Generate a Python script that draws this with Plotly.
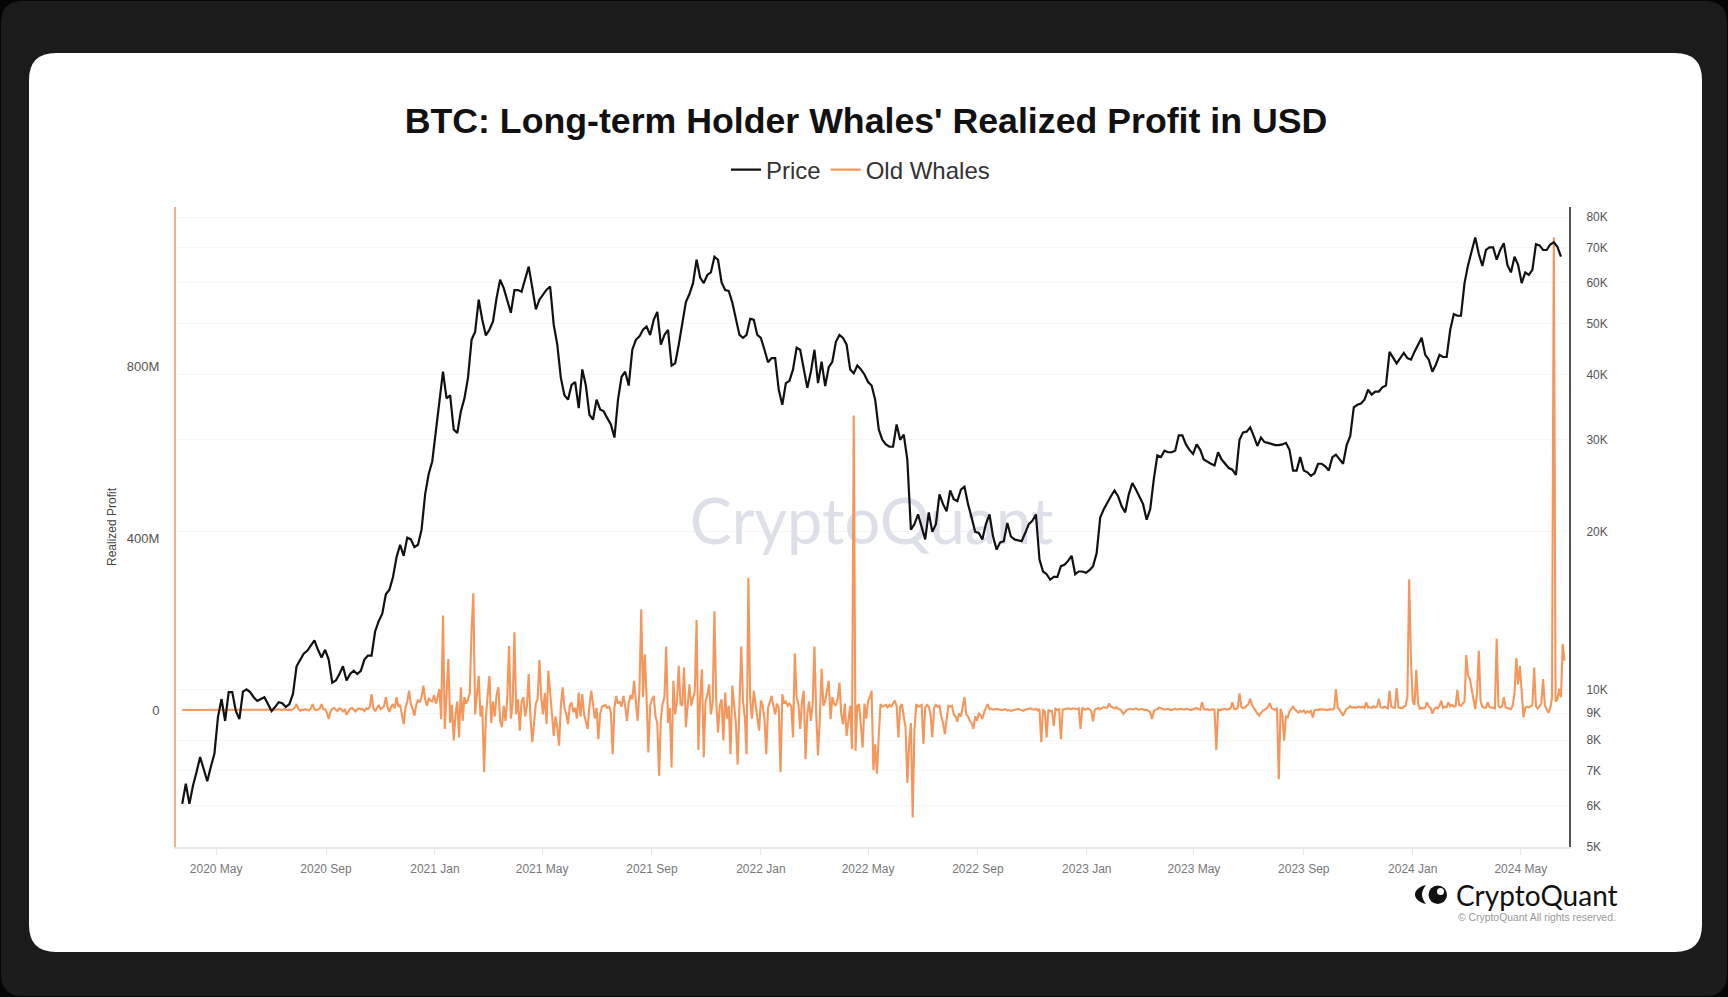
import pandas as pd
import plotly.graph_objects as go

# 4-day samples of BTC price (thousand USD)
price_k = [
    6.04, 6.6, 6.04, 6.54, 6.95, 7.42, 7.04, 6.67, 7.11, 7.53,
    8.85, 9.58, 8.7, 9.88, 9.88, 9.09, 8.77, 9.9, 10.0, 9.88,
    9.66, 9.5, 9.58, 9.66, 9.37, 9.09, 9.25, 9.45, 9.41, 9.25,
    9.37, 9.8, 11.07, 11.42, 11.7, 11.85, 12.1, 12.4, 11.9, 11.5,
    11.9, 11.4, 10.3, 10.4, 10.7, 11.07, 10.4, 10.7, 10.85, 10.7,
    10.85, 11.4, 11.6, 11.6, 12.9, 13.5, 13.95, 15.2, 15.5, 16.4,
    17.9, 18.9, 18.0, 19.5, 19.35, 18.7, 18.9, 20.2, 23.6, 25.8,
    27.3, 31.0, 35.0, 40.5, 36.0, 36.5, 31.4, 30.9, 34.0, 36.0,
    39.4, 46.6, 48.3, 55.6, 50.9, 47.5, 48.7, 50.5, 56.0, 60.7,
    58.5, 55.6, 52.5, 58.0, 58.0, 57.6, 60.7, 64.3, 58.6, 53.3,
    55.6, 56.8, 58.1, 58.9, 49.8, 45.6, 39.4, 36.5, 35.8, 38.2,
    38.7, 34.5, 40.9, 38.1, 33.5, 32.8, 35.8, 34.3, 34.0, 33.0,
    32.1, 30.3, 35.8, 39.6, 40.5, 38.1, 44.6, 46.6, 47.3, 48.7,
    49.4, 47.6, 50.9, 52.7, 45.6, 47.6, 48.7, 41.6, 42.0, 45.6,
    49.9, 55.0, 57.0, 59.8, 66.3, 61.3, 59.8, 62.0, 62.7, 67.2,
    66.3, 60.0, 58.0, 57.8, 54.9, 50.9, 47.6, 47.0, 47.6, 51.1,
    50.9, 47.6, 47.0, 44.6, 42.2, 43.0, 43.0, 37.4, 35.0, 38.5,
    38.9, 40.9, 45.0, 44.6, 40.9, 37.7, 40.5, 44.6, 38.5, 42.3,
    38.0, 41.3, 42.3, 46.2, 47.6, 47.0, 45.6, 40.9, 40.2, 41.6,
    40.9, 40.0, 38.7, 38.1, 35.8, 31.4, 30.0, 29.4, 29.1, 29.1,
    32.1, 30.0, 30.7, 27.5, 20.2, 20.7, 21.6, 20.4, 19.35, 21.8,
    20.0, 20.7, 23.6, 22.6, 21.9, 24.0, 23.1, 22.9, 24.1, 24.4,
    22.6, 21.3, 20.0, 19.9, 19.35, 20.7, 21.6, 19.6, 18.5, 19.1,
    19.2, 20.8, 19.6, 19.35, 19.3, 19.2, 19.9, 20.7, 21.0, 21.6,
    17.7, 16.8, 16.6, 16.2, 16.4, 16.4, 17.2, 17.3, 17.6, 18.0,
    16.6, 16.8, 16.8, 16.7, 16.9, 17.2, 18.2, 21.3, 22.1, 22.8,
    23.4, 24.0, 23.4, 22.4, 21.8, 23.6, 24.8, 24.1, 23.4, 22.6,
    21.1, 22.1, 25.2, 28.0, 27.8, 28.6, 28.4, 28.4, 28.6, 30.6,
    30.6, 29.4, 28.7, 28.2, 29.4, 28.7, 27.5, 27.2, 27.0, 26.8,
    28.4, 27.5, 27.0, 26.5, 26.3, 25.7, 30.0, 31.0, 31.1, 31.7,
    30.5, 29.2, 30.3, 29.7, 29.6, 29.4, 29.3, 29.3, 29.4, 29.6,
    28.7, 26.2, 26.2, 27.8, 26.2, 26.0, 25.6, 25.9, 27.0, 27.0,
    26.7, 26.2, 27.8, 28.1, 27.5, 27.0, 29.3, 30.5, 34.6, 35.0,
    35.2, 35.8, 37.4, 36.6, 37.1, 37.1, 37.8, 38.1, 44.2, 43.0,
    42.0, 43.0, 44.0, 43.0, 42.7, 44.2, 45.6, 47.0, 43.6, 42.7,
    40.5, 41.8, 43.6, 43.2, 43.2, 48.7, 52.2, 51.8, 51.8, 59.8,
    64.8, 69.2, 73.1, 68.0, 64.5, 69.2, 70.0, 70.0, 66.3, 69.2,
    71.3, 64.8, 62.7, 67.2, 64.8, 59.8, 62.7, 62.0, 63.4, 71.0,
    70.6, 69.2, 69.2, 70.9, 71.6, 70.2, 67.2,
]

# 2-day samples of old whales realized profit (million USD)
whales_m = [
    0, 0, 0, 0, 0, 0, 0, 0, 0, 0, 0, 0, 0, 0, 0, 0, 0, 0, 0, 0,
    0, 0, 0, 0, 0, 0, 0, 0, 0, 0, 0, 0, 0, 0, 0, 0, 0, 0, 0, 0,
    0, 0, 0, 0, 0, 0, 0, 0, 0, 0, 0, 1, 0, 1, 2, 1, 0, 2, 1, 0,
    1, 0, 2, 5, 14, 3, -2, 1, 0, 2, 1, -1, 3, 14, 2, 0, 1, 4, 14, 2,
    2, -6, -21, -4, 3, 5, 1, -2, 4, 2, -3, 1, -11, -2, 3, 5, 1, -3, 2, 4,
    1, 3, -2, 4, 2, 8, 37, 5, -3, 6, 12, 2, 5, 9, 30, 6, -4, 8, 14, 4,
    30, 8, 12, -8, -33, 6, 20, 45, 14, 3, -13, 12, 24, 18, 30, 57, 25, 10, 28, 22,
    20, 35, 15, 30, 49, -21, 220, -44, 30, 119, -30, 12, -71, -10, 20, -64, 53, -25, 30, 15,
    25, 40, 185, 272, -10, 40, 80, -15, 10, -145, -20, 35, 80, -30, 20, -15, 35, 53, -25, -40,
    10, -25, 30, 150, -20, 15, 181, -10, 25, -48, 20, 30, -15, 10, 84, -20, -75, -30, 15, 25,
    117, 30, -10, 40, -33, 92, 35, -20, -60, -15, -40, -83, 10, 53, 5, -10, -33, 10, 18, -5,
    5, -20, 41, -15, 37, -10, -25, -44, 10, 45, 15, -20, 5, -68, -10, 8, 10, 12, 5, 8,
    -5, -103, 5, 33, 15, 20, 8, 33, 10, -25, 15, 35, 25, 68, 20, -25, 45, 235, 30, 130,
    30, -99, 10, 25, 33, -15, -30, -153, -20, 15, 30, 148, -30, 5, -134, 68, -10, 20, 103, 15,
    10, 99, -40, 20, 60, 10, 30, 45, 210, -93, 30, 95, -110, 20, 35, 60, -10, 15, 230, 20,
    -52, 10, 25, -71, 41, -20, 10, -103, 57, 15, -30, -127, 30, 148, 20, -15, -103, 308, 25, -20,
    45, 15, -15, -48, 22, 10, -20, -103, 5, 20, 33, 10, -10, 15, 5, -145, 37, 15, 20, 10,
    15, 10, -64, 132, 30, 15, -44, 20, 45, -114, -10, 20, -25, 15, 148, -10, -106, -20, 96, 10,
    20, 45, 68, -21, 30, 15, 10, 25, 64, -10, -33, 15, -60, -25, 10, -91, 686, -95, 10, 14,
    -30, -87, 15, -20, 20, 30, 45, -140, -80, -148, -60, 14, 8, 10, 12, 6, 12, 8, 15, 22,
    10, -64, 8, 14, -15, -40, -169, -80, -30, -250, -45, 14, 8, 10, 12, -79, 6, 12, 8, -10,
    -64, 5, 12, 8, 10, -15, -30, -56, -20, 10, 8, 10, -10, -15, -27, -8, -15, 5, 30, -10,
    -15, -25, -30, -44, -15, -25, -8, -12, -21, -5, 5, 14, 2, 3, 1, 2, 3, 2, 1, 0,
    1, 2, -1, 0, -2, -1, 1, 2, 3, 1, 0, -2, 1, 2, 3, 4, 2, 1, 3, -1,
    3, -75, 2, -4, -64, 1, -3, -2, -37, 3, 0, 2, -68, 1, 2, 3, 4, 3, 2, 4,
    3, 2, 4, -44, 6, 2, 1, 4, 2, -3, -26, 1, 3, 5, 2, 4, 7, 5, 6, 15,
    8, 6, 4, 7, 3, 2, -2, -9, -3, 1, 2, 3, 1, 2, 4, 2, 1, 3, 2, 0,
    1, -2, -5, -21, -3, 1, 2, 6, 4, 3, 1, 2, 3, 1, 0, 2, 3, 1, 2, 3,
    2, 1, 3, 2, 1, 0, 2, 3, 5, 2, 1, 18, 3, 1, 2, 0, 1, 2, 1, -93,
    1, 0, 1, 2, 3, 1, 2, 4, 18, 3, 2, 5, 39, 8, 4, 6, 10, 14, 26, 12,
    5, -3, -8, -13, -6, -2, 1, 3, 8, 16, 4, 2, 0, 5, -161, 3, -10, -71, -15, -17,
    -3, 2, 8, 1, -3, -6, -2, -4, -1, -7, -3, -5, -2, -17, -1, 1, 0, 2, 1, 2,
    1, 0, 1, 2, 1, 3, 49, 6, 1, -6, -13, -4, 3, 5, 9, 6, 7, 5, 6, 8,
    6, 8, 5, 18, 6, 7, 5, 9, 6, 8, 26, 7, 5, 8, 6, 4, 45, 8, 6, 5,
    51, 6, 5, 4, 8, 10, 30, 305, 120, 20, 12, 93, 15, 3, 5, 4, 6, 18, 8, 5,
    -8, 2, 6, 4, 10, 22, 5, 8, 7, 18, 9, 12, 8, 10, 47, 12, 10, 14, 20, 128,
    80, 72, 50, 25, 2, 40, 138, 20, 8, 5, 6, 18, 7, 6, 5, 4, 166, 10, 6, 8,
    30, 6, 5, 3, 2, 10, 40, 121, 60, 103, 40, -17, 5, 8, 6, 10, 12, 99, 8, 4,
    10, 15, 72, 10, 2, -6, 4, 30, 1101, 20, 25, 49, 30, 154, 115,
]

x_tick_dates = ['2020-05-01', '2020-09-01', '2021-01-01', '2021-05-01', '2021-09-01', '2022-01-01', '2022-05-01',
                '2022-09-01', '2023-01-01', '2023-05-01', '2023-09-01', '2024-01-01', '2024-05-01']
x_tick_labels = ['2020 May', '2020 Sep', '2021 Jan', '2021 May', '2021 Sep', '2022 Jan', '2022 May',
                 '2022 Sep', '2023 Jan', '2023 May', '2023 Sep', '2024 Jan', '2024 May']
profit_ticks = [0, 400, 800]
profit_labels = ['0', '400M', '800M']
price_ticks = [5000, 6000, 7000, 8000, 9000, 10000, 20000, 30000, 40000, 50000, 60000, 70000, 80000]
price_labels = ['5K', '6K', '7K', '8K', '9K', '10K', '20K', '30K', '40K', '50K', '60K', '70K', '80K']

FONT = 'Liberation Sans'
W, H = 1728, 997
L, R, T, B = 176, 1569, 207, 847


# decorations are placed in picture pixels, converted to paper coordinates
def px(x):
    return (x - L) / (R - L)


def py(y):
    return (B - y) / (B - T)


def round_rect(x0, y0, x1, y1, r):
    return (f'M{px(x0 + r)},{py(y0)} L{px(x1 - r)},{py(y0)} Q{px(x1)},{py(y0)} {px(x1)},{py(y0 + r)} '
            f'L{px(x1)},{py(y1 - r)} Q{px(x1)},{py(y1)} {px(x1 - r)},{py(y1)} '
            f'L{px(x0 + r)},{py(y1)} Q{px(x0)},{py(y1)} {px(x0)},{py(y1 - r)} '
            f'L{px(x0)},{py(y0 + r)} Q{px(x0)},{py(y0)} {px(x0 + r)},{py(y0)} Z')


crescent = (f'M{px(1426)},{py(885)} C{px(1418)},{py(887)} {px(1415)},{py(891)} {px(1415)},{py(894.5)} '
            f'C{px(1415)},{py(898)} {px(1418)},{py(902)} {px(1426)},{py(904)} '
            f'C{px(1423)},{py(900)} {px(1422)},{py(897)} {px(1422)},{py(894.5)} '
            f'C{px(1422)},{py(892)} {px(1423)},{py(889)} {px(1426)},{py(885)} Z')

shapes = [
    dict(type='path', xref='paper', yref='paper', path=round_rect(1, 1, 1727, 996, 22),
         fillcolor='#1b1b1b', line_width=0, layer='below'),
    dict(type='path', xref='paper', yref='paper', path=round_rect(29, 53, 1702, 952, 27),
         fillcolor='white', line_width=0, layer='below'),
    dict(type='path', xref='paper', yref='paper', path=crescent, fillcolor='#111', line_width=0),
    dict(type='circle', xref='paper', yref='paper', x0=px(1428.5), x1=px(1447), y0=py(885.5), y1=py(904),
         fillcolor='#111', line_width=0),
    dict(type='circle', xref='paper', yref='paper', x0=px(1437), x1=px(1444), y0=py(888), y1=py(895),
         fillcolor='white', line_width=0),
]

whale_dates = pd.date_range('2020-03-24', periods=len(whales_m), freq='2D')
price_dates = pd.date_range('2020-03-24', periods=len(price_k), freq='4D')

fig = go.Figure()

# watermark sits under the lines, so it is a text trace and not an annotation
fig.add_trace(go.Scatter(x=['2022-05-05'], y=[424], mode='text', text=['CryptoQuant'], showlegend=False,
                         hoverinfo='skip', textposition='middle center',
                         textfont=dict(family='Lato', size=63, color='#dde0e8')))
fig.add_trace(go.Scatter(x=whale_dates, y=whales_m, name='Old Whales', mode='lines', legendrank=2,
                         line=dict(color='#f5975c', width=2.1)))
fig.add_trace(go.Scatter(x=price_dates, y=[p * 1000 for p in price_k], name='Price', mode='lines', yaxis='y2',
                         legendrank=1, line=dict(color='#111111', width=2.2)))

fig.update_layout(
    width=W, height=H,
    margin=dict(l=L, r=W - R, t=T, b=H - B, pad=0),
    paper_bgcolor='#050505', plot_bgcolor='rgba(0,0,0,0)',
    font=dict(family=FONT, color='#444'),
    title=dict(text='<b>BTC: Long-term Holder Whales\' Realized Profit in USD</b>', x=866 / W, y=1 - 121 / H,
               xanchor='center', yanchor='middle', font=dict(family=FONT, size=35.7, color='#111')),
    legend=dict(orientation='h', x=px(726), y=py(170), xanchor='left', yanchor='middle',
                font=dict(family=FONT, size=24, color='#333'), bgcolor='rgba(0,0,0,0)'),
    xaxis=dict(type='date', range=['2020-03-17', '2024-06-24'], tickmode='array', tickvals=x_tick_dates,
               ticktext=x_tick_labels, showgrid=False, zeroline=False, showline=True, linecolor='#e8e8e8',
               linewidth=2, ticks='outside', ticklen=6, tickcolor='#e8e8e8', ticklabelstandoff=4,
               tickfont=dict(family=FONT, size=12, color='#777')),
    yaxis=dict(range=[-319, 1172], tickmode='array', tickvals=profit_ticks, ticktext=profit_labels, showgrid=False,
               zeroline=False, showline=True, linecolor='#f3b48c', linewidth=2, ticklabelstandoff=12,
               tickfont=dict(family=FONT, size=13, color='#555'),
               title=dict(text='Realized Profit', standoff=8, font=dict(family=FONT, size=12, color='#444'))),
    yaxis2=dict(type='log', overlaying='y', side='right', range=[3.6985, 4.9223], tickmode='array',
                tickvals=price_ticks, ticktext=price_labels, showgrid=True, gridcolor='#f6f6f6', zeroline=False,
                showline=True, linecolor='#555555', linewidth=2, ticklabelstandoff=13,
                tickfont=dict(family=FONT, size=12, color='#555')),
    shapes=shapes,
    annotations=[
        dict(text='CryptoQuant', xref='paper', yref='paper', x=px(1619.5), y=py(895), xanchor='right',
             yanchor='middle', showarrow=False, font=dict(family='Lato', size=28, color='#111')),
        dict(text='© CryptoQuant All rights reserved.', xref='paper', yref='paper', x=px(1618), y=py(917),
             xanchor='right', yanchor='middle', showarrow=False, font=dict(family=FONT, size=10.4, color='#999')),
    ],
)

fig.write_html('out.html', config={'displayModeBar': False},
               post_script="document.body.style.margin='0';document.body.style.overflow='hidden';")
